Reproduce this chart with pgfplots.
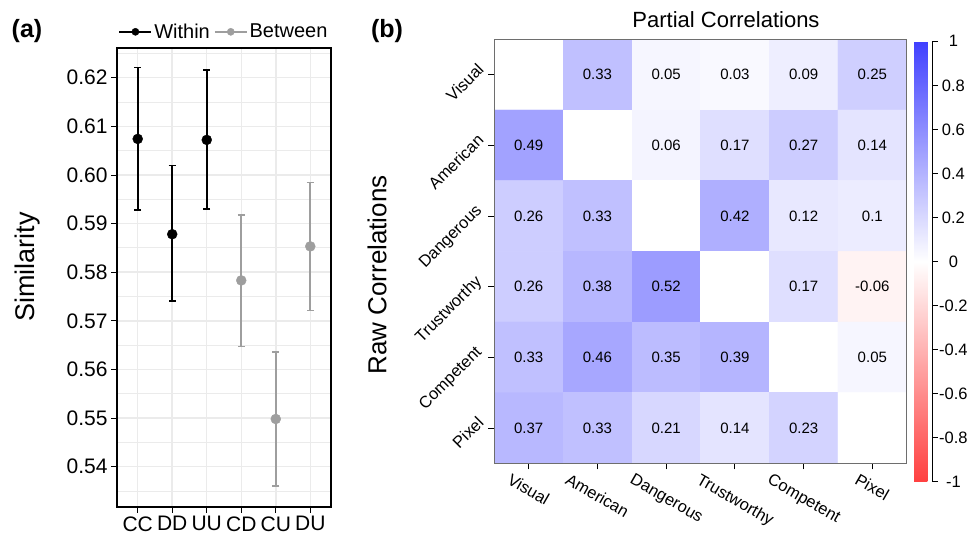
\documentclass[border=0pt]{standalone}
\usepackage{fontspec}
\setmainfont{Liberation Sans}
\usepackage{graphicx}
\usepackage{pgfplots}
\pgfplotsset{compat=1.18}
\usepackage{pgfplotstable}
\usetikzlibrary{calc}
\definecolor{gridc}{RGB}{235,235,235}
\definecolor{betw}{RGB}{158,158,158}
\definecolor{framec}{RGB}{110,110,110}
\pgfplotsset{colormap={rwb}{rgb255=(255,64,64) rgb255=(255,255,255) rgb255=(64,64,255)}}

\pgfplotstableread{
x y c
0 0 0
1 0 0.33
2 0 0.05
3 0 0.03
4 0 0.09
5 0 0.25
0 1 0.49
1 1 0
2 1 0.06
3 1 0.17
4 1 0.27
5 1 0.14
0 2 0.26
1 2 0.33
2 2 0
3 2 0.42
4 2 0.12
5 2 0.1
0 3 0.26
1 3 0.38
2 3 0.52
3 3 0
4 3 0.17
5 3 -0.06
0 4 0.33
1 4 0.46
2 4 0.35
3 4 0.39
4 4 0
5 4 0.05
0 5 0.37
1 5 0.33
2 5 0.21
3 5 0.14
4 5 0.23
5 5 0
}\heat

\pgfplotstableread{
x y lab
1 0 0.33
2 0 0.05
3 0 0.03
4 0 0.09
5 0 0.25
0 1 0.49
2 1 0.06
3 1 0.17
4 1 0.27
5 1 0.14
0 2 0.26
1 2 0.33
3 2 0.42
4 2 0.12
5 2 0.1
0 3 0.26
1 3 0.38
2 3 0.52
4 3 0.17
5 3 -0.06
0 4 0.33
1 4 0.46
2 4 0.35
3 4 0.39
5 4 0.05
0 5 0.37
1 5 0.33
2 5 0.21
3 5 0.14
4 5 0.23
}\heatlab

\begin{document}
\begin{tikzpicture}
\path[use as bounding box] (0,0) rectangle (975bp,538bp);

% ---------------- panel (a)
\begin{axis}[
  at={(117bp,31bp)}, anchor=south west,
  scale only axis, width=214bp, height=459bp,
  xmin=0.4, xmax=6.6, ymin=0.5317, ymax=0.6261,
  xtick={1,2,3,4,5,6}, xticklabels={CC,DD,UU,CD,CU,DU},
  ytick={0.54,0.55,0.56,0.57,0.58,0.59,0.60,0.61,0.62},
  yticklabels={0.54,0.55,0.56,0.57,0.58,0.59,0.60,0.61,0.62},
  minor ytick={0.535,0.545,0.555,0.565,0.575,0.585,0.595,0.605,0.615,0.625},
  xmajorgrids, ymajorgrids, yminorgrids,
  major grid style={gridc, line width=1.5bp},
  minor grid style={gridc, line width=0.8bp},
  tick align=outside, major tick length=6bp, minor tick length=0pt,
  xtick pos=bottom, ytick pos=left,
  tick style={black, line width=0.8bp},
  axis line style={black, line width=1.4bp},
  ticklabel style={font=\fontsize{21bp}{21bp}\selectfont},
  xticklabel style={inner xsep=0pt},
  legend style={draw=none, fill=none, at={(0.5,1)}, anchor=south, yshift=6bp,
    legend columns=2, font=\fontsize{20bp}{20bp}\selectfont, inner sep=0pt,
    /tikz/every even column/.append style={column sep=2bp},
    legend cell align=left},
  legend image code/.code={\draw[#1, line width=1.8bp] (0bp,0bp) -- (32bp,0bp);
     \fill[#1] (16bp,0bp) circle (3.6bp);},
]
\addlegendimage{black}
\addlegendentry{Within}
\addlegendimage{betw}
\addlegendentry{Between}
\addplot[black, only marks, mark=*, mark size=5bp, forget plot,
  error bars/.cd, y dir=both, y explicit,
  error bar style={black, line width=1.6bp},
  error mark=-,
  error mark options={black, rotate=90, mark size=3.5bp, line width=1.6bp}]
coordinates {
 (1,0.6074) += (0,0.0147) -= (0,0.0146)
 (2,0.5878) += (0,0.0141) -= (0,0.0137)
 (3,0.6072) += (0,0.0144) -= (0,0.0142)
};
\addplot[betw, only marks, mark=*, mark size=5bp, forget plot,
  error bars/.cd, y dir=both, y explicit,
  error bar style={betw, line width=1.6bp},
  error mark=-,
  error mark options={betw, rotate=90, mark size=3.5bp, line width=1.6bp}]
coordinates {
 (4,0.5783) += (0,0.0135) -= (0,0.0136)
 (5,0.5498) += (0,0.0138) -= (0,0.0138)
 (6,0.5853) += (0,0.0131) -= (0,0.0132)
};
\end{axis}

% ---------------- panel (b)
\begin{axis}[
  at={(494.3bp,74.7bp)}, anchor=south west,
  scale only axis, width=412.4bp, height=424bp,
  xmin=-0.5, xmax=5.5, ymin=-0.5, ymax=5.5, y dir=reverse,
  colormap name=rwb, point meta min=-1, point meta max=1,
  xtick={0,1,2,3,4,5}, ytick={0,1,2,3,4,5},
  xticklabels={\rotatebox{-30}{Visual},\rotatebox{-30}{American},\rotatebox{-30}{Dangerous},\rotatebox{-30}{Trustworthy},\rotatebox{-30}{Competent},\rotatebox{-30}{Pixel}},
  yticklabels={\rotatebox{45}{Visual},\rotatebox{45}{American},\rotatebox{45}{Dangerous},\rotatebox{45}{Trustworthy},\rotatebox{45}{Competent},\rotatebox{45}{Pixel}},
  tick align=outside, major tick length=6bp,
  xtick pos=bottom, ytick pos=left,
  tick style={black, line width=0.8bp},
  axis line style={framec, line width=0.9bp},
  ticklabel style={font=\fontsize{16.5bp}{16.5bp}\selectfont},
  xticklabel style={anchor=north},
  yticklabel style={anchor=north east, yshift=16bp},
  axis on top,
  colorbar right,
  colorbar style={
    name=cb,
    at={(parent axis.north east)}, anchor=north west, xshift=-2bp, yshift=-2bp,
    width=19bp, height=440.4bp,
    axis line style={white, line width=0.2bp},
    ytick={-1,-0.8,-0.6,-0.4,-0.2,0,0.2,0.4,0.6,0.8,1},
    yticklabels={-1,-0.8,-0.6,-0.4,-0.2,0,0.2,0.4,0.6,0.8,1},
    ytick pos=right,
    tick align=outside, major tick length=6bp,
    ytick style={draw=none},
    yticklabel style={font=\fontsize{16.5bp}{16.5bp}\selectfont, anchor=west,
       text width=30bp, align=center, inner xsep=0pt},
  },
]
\addplot[matrix plot*, mesh/cols=6, point meta=explicit] table[x=x, y=y, meta=c] {\heat};
\addplot[draw=none, mark=none, nodes near coords, point meta=explicit symbolic,
  every node near coord/.append style={anchor=center, font=\fontsize{15bp}{15bp}\selectfont, black}]
  table[x=x, y=y, meta=lab] {\heatlab};
\draw[black, line width=1.6bp] (axis cs:-0.5,-0.5) -- (axis cs:-0.5,5.5);
\draw[black, line width=1.6bp] (axis cs:0,5.5) -- (axis cs:5,5.5);
\end{axis}

% colorbar axis line and ticks
\draw[black, line width=0.8bp] (cb.south east) -- (cb.north east);
\foreach \i in {0,...,10}
  \draw[black, line width=0.8bp] ($(cb.south east)!\i/10!(cb.north east)$) -- ++(6bp,0);

% ---------------- texts
\node[font=\fontsize{27bp}{27bp}\selectfont, rotate=90] at (28bp,271bp) {Similarity};
\node[font=\fontsize{26bp}{26bp}\selectfont, rotate=90] at (377bp,263bp) {Raw Correlations};
\node[font=\fontsize{22bp}{22bp}\selectfont] at (726bp,518bp) {Partial Correlations};
\node[font=\bfseries\fontsize{25bp}{25bp}\selectfont] at (27bp,507bp) {(a)};
\node[font=\bfseries\fontsize{25bp}{25bp}\selectfont] at (387bp,507bp) {(b)};
\end{tikzpicture}
\end{document}
